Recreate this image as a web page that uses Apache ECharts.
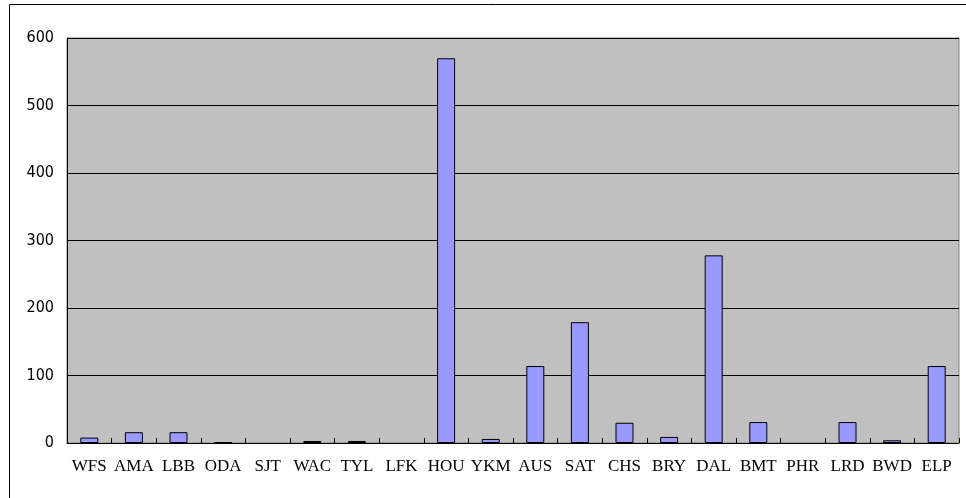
<!DOCTYPE html>
<html><head><meta charset="utf-8">
<script src="https://cdn.jsdelivr.net/npm/echarts@6/dist/echarts.min.js"></script>
<style>html,body{margin:0;padding:0;background:#fff}#c{width:966px;height:498px}</style>
</head><body><div id="c"></div>
<script>
const categories = ['WFS','AMA','LBB','ODA','SJT','WAC','TYL','LFK','HOU','YKM','AUS','SAT','CHS','BRY','DAL','BMT','PHR','LRD','BWD','ELP'];
const values = [8,16,16,1,0,3,3,0,570,6,114,179,30,9,278,31,0,31,4,114];
const yTicks = [0,100,200,300,400,500,600];

const chart = echarts.init(document.getElementById('c'));
const fam = '"Liberation Serif", serif';
chart.setOption({
  animation: false,
  graphic: [{type:'rect', shape:{x:9.5,y:4.5,width:1000,height:600}, style:{fill:'none',stroke:'#000',lineWidth:1}, z:-1}],
  grid: {left:67, right:7, top:38, bottom:55, show:true, backgroundColor:'#c0c0c0', borderColor:'#808080', borderWidth:1},
  xAxis: {
    type:'category', data:categories,
    axisLine:{lineStyle:{color:'#000',width:1}},
    axisTick:{show:true,inside:true,length:5,interval:0,lineStyle:{color:'#000',width:1}},
    axisLabel:{color:'#000', fontFamily:fam, fontSize:17, margin:15, interval:0},
    z:10
  },
  yAxis: {
    type:'value', min:yTicks[0], max:yTicks[yTicks.length-1], interval:100,
    axisLine:{show:true,lineStyle:{color:'#000'}},
    axisTick:{show:false},
    splitLine:{lineStyle:{color:'#000',width:1}},
    axisLabel:{color:'#000', fontFamily:'"DejaVu Sans Condensed", sans-serif', fontSize:16, margin:13}
  },
  series: [{
    type:'bar', barWidth:18,
    data: values.map(v => v === 0 ? {value:v, itemStyle:{borderWidth:0}} : v),
    itemStyle:{color:'#9999ff', borderColor:'#000', borderWidth:1}
  }]
});
</script></body></html>
